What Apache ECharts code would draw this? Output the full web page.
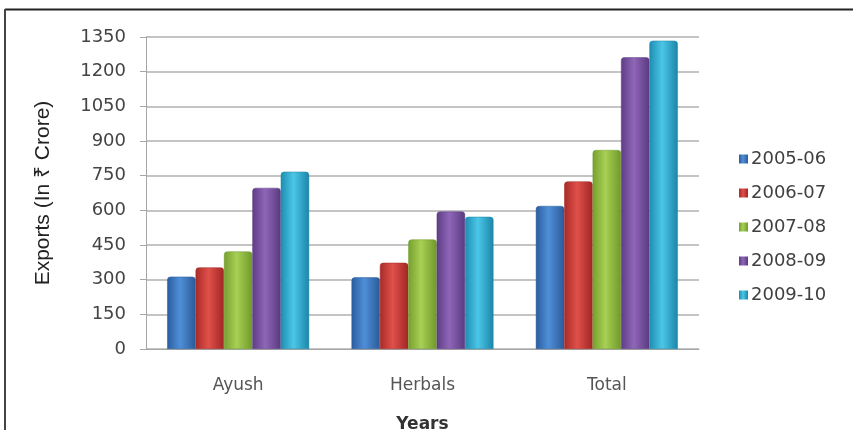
<!DOCTYPE html>
<html>
<head>
<meta charset="utf-8">
<script src="https://cdn.jsdelivr.net/npm/echarts@6/dist/echarts.min.js"></script>
<style>
  html, body { margin: 0; padding: 0; background: #fff; }
  #chart { width: 853px; height: 430px; }
</style>
</head>
<body>
<div id="chart"></div>
<script>
var categories = ['Ayush', 'Herbals', 'Total'];
var years = ['2005-06', '2006-07', '2007-08', '2008-09', '2009-10'];
var exports0506 = [313, 310, 619];
var exports0607 = [353, 373, 725];
var exports0708 = [422, 474, 861];
var exports0809 = [697, 595, 1262];
var exports0910 = [767, 572, 1334];
var yTicks = [0, 150, 300, 450, 600, 750, 900, 1050, 1200, 1350];

// edge / middle / edge shades for the glossy bars
var shades = [
    ['#2a5c9f', '#4f8fd8', '#2b5a98'],
    ['#a82a27', '#e0504a', '#a02624'],
    ['#76a02e', '#a8d055', '#6f9929'],
    ['#5e3d85', '#8f66b8', '#5a3a80'],
    ['#1d8db0', '#4cc6e8', '#1a86a8']
];
var values = [exports0506, exports0607, exports0708, exports0809, exports0910];

function barFill(s) {
    return new echarts.graphic.LinearGradient(0, 0, 1, 0, [
        {offset: 0, color: s[0]},
        {offset: 0.45, color: s[1]},
        {offset: 1, color: s[2]}
    ]);
}

var myChart = echarts.init(document.getElementById('chart'));

var series = years.map(function (y, i) {
    return {
        name: y,
        type: 'bar',
        data: values[i],
        barGap: '0%',
        barCategoryGap: '23%',
        itemStyle: {
            color: barFill(shades[i]),
            borderColor: shades[i][2],
            borderWidth: 0.5,
            borderRadius: [3, 3, 0, 0]
        }
    };
});

option = {
    animation: false,
    color: shades.map(function (s) { return s[1]; }),
    grid: {
        left: 146,
        right: 154,
        top: 37,
        bottom: 81,
        containLabel: false,
        outerBoundsMode: 'none'
    },
    legend: {
        orient: 'vertical',
        left: 734,
        top: 145,
        itemGap: 16,
        itemWidth: 9,
        itemHeight: 9,
        itemStyle: {borderWidth: 0},
        icon: 'rect',
        data: years,
        textStyle: {
            fontFamily: 'DejaVu Sans',
            fontSize: 18,
            lineHeight: 18,
            color: '#404040',
            padding: [0, 0, 0, -2]
        }
    },
    xAxis: {
        type: 'category',
        data: categories,
        name: 'Years',
        nameLocation: 'middle',
        nameGap: 67,
        nameTextStyle: {
            fontFamily: 'DejaVu Sans',
            fontWeight: 'bold',
            fontSize: 17,
            color: '#333'
        },
        axisLine: {lineStyle: {color: '#a6a6a6'}},
        axisTick: {show: false},
        axisLabel: {
            margin: 28,
            fontFamily: 'DejaVu Sans',
            fontSize: 17,
            color: '#555'
        }
    },
    yAxis: {
        type: 'value',
        min: 0,
        max: yTicks[yTicks.length - 1],
        interval: 150,
        name: 'Exports (In ₹ Crore)',
        nameLocation: 'middle',
        nameGap: 92,
        nameTextStyle: {
            fontFamily: 'Liberation Sans',
            fontSize: 21,
            color: '#222'
        },
        axisLine: {show: true, lineStyle: {color: '#a6a6a6'}},
        axisTick: {show: true, length: 6, lineStyle: {color: '#a6a6a6'}},
        axisLabel: {
            margin: 20,
            fontFamily: 'DejaVu Sans',
            fontSize: 18,
            color: '#444',
            formatter: function (v) { return String(v); }
        },
        splitLine: {lineStyle: {color: '#b0b0b0', width: 1.5}}
    },
    graphic: [
        {type: 'line', shape: {x1: 5, y1: 9.5, x2: 853, y2: 9.5}, style: {stroke: '#222', lineWidth: 2}},
        {type: 'line', shape: {x1: 5, y1: 9, x2: 5, y2: 430}, style: {stroke: '#444', lineWidth: 2}}
    ],
    series: series
};
myChart.setOption(option);
</script>
</body>
</html>
